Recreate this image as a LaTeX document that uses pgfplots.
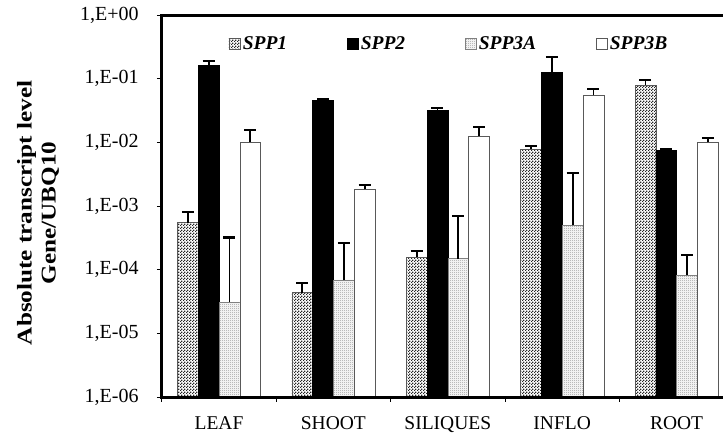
\documentclass[border=0pt]{standalone}
\usepackage{fontspec}
\setmainfont{Liberation Serif}
\newfontfamily\ylabfont[FakeStretch=1.2]{Liberation Serif}
\usepackage{pgfplots}
\usepackage{pgfplotstable}
\pgfplotsset{compat=1.18}
\usetikzlibrary{patterns}
\pgfdeclarepatternformonly{chkA}{\pgfqpoint{0pt}{0pt}}{\pgfqpoint{3pt}{3pt}}{\pgfqpoint{3pt}{3pt}}{%
 \pgfpathrectangle{\pgfqpoint{0pt}{0pt}}{\pgfqpoint{1.5pt}{1.5pt}}%
 \pgfpathrectangle{\pgfqpoint{1.5pt}{1.5pt}}{\pgfqpoint{1.5pt}{1.5pt}}%
 \pgfusepath{fill}}
\pgfdeclarepatternformonly{chkB}{\pgfqpoint{0pt}{0pt}}{\pgfqpoint{2pt}{2pt}}{\pgfqpoint{2pt}{2pt}}{%
 \pgfpathrectangle{\pgfqpoint{0pt}{0pt}}{\pgfqpoint{1pt}{1pt}}%
 \pgfpathrectangle{\pgfqpoint{1pt}{1pt}}{\pgfqpoint{1pt}{1pt}}%
 \pgfusepath{fill}}

\pgfplotstableread{
x y e
0 5.5e-4 2.5e-4
1 4.35e-5 1.9e-5
2 1.56e-4 4.0e-5
3 7.76e-3 9.0e-4
4 7.94e-2 1.48e-2
}\sppone
\pgfplotstableread{
x y e
0 0.160 0.029
1 0.046 0.001
2 0.0314 0.0028
3 0.126 0.090
4 7.57e-3 4.0e-4
}\spptwo
\pgfplotstableread{
x y e
0 3.1e-5 2.9e-4
1 6.9e-5 1.97e-4
2 1.49e-4 5.5e-4
3 4.96e-4 2.84e-3
4 8.15e-5 8.7e-5
}\sppthreeA
\pgfplotstableread{
x y e
0 0.0101 0.0055
1 1.83e-3 3.1e-4
2 0.0124 0.0048
3 0.0553 0.0142
4 0.0101 0.0017
}\sppthreeB

\begin{document}
\begin{tikzpicture}
\useasboundingbox (0,0) rectangle (723pt,432pt);
\clip (0,0) rectangle (723pt,432pt);
\begin{axis}[
  at={(161.8pt,35pt)}, anchor=south west,
  scale only axis, width=572pt, height=382pt,
  ymode=log, ymin=1e-6, ymax=1, log origin y=infty,
  xmin=-0.5, xmax=4.5,
  ybar=0pt, bar width=20.8pt,
  axis line style={line width=3pt, black},
  axis on top,
  tick align=outside, xtick pos=bottom, ytick pos=left,
  tick style={line width=0.8pt, black},
  major tick length=5pt,
  ytick={1e-6,1e-5,1e-4,1e-3,1e-2,1e-1,1},
  yticklabels={{1,E-06},{1,E-05},{1,E-04},{1,E-03},{1,E-02},{1,E-01},{1,E+00}},
  yminorticks=false,
  yticklabel style={font=\fontsize{20}{20}\selectfont, inner sep=0pt, xshift=-18pt},
  xtick={-0.5,0.5,1.5,2.5,3.5,4.5},
  xticklabels={},
  extra x ticks={0,1,2,3,4},
  extra x tick labels={LEAF,SHOOT,SILIQUES,INFLO,ROOT},
  extra x tick style={major tick length=0pt},
  xticklabel style={font=\fontsize{19.5}{20}\selectfont, inner sep=0pt, yshift=-19pt},
  ylabel={Absolute transcript level\\Gene/UBQ10},
  ylabel style={at={(axis description cs:-0.2164,0.482)}, anchor=center, align=center,
    font=\fontsize{21}{24}\selectfont\ylabfont\bfseries},
  legend image code/.code={\draw[#1] (0pt,-5.5pt) rectangle (11pt,5.5pt);},
  legend columns=4,
  legend style={at={(axis description cs:0.1166,0.924)}, anchor=west, draw=none, fill=none,
    inner sep=0pt, font=\fontsize{19.5}{20}\selectfont\bfseries\itshape,
    nodes={inner sep=1.5pt},
    /tikz/every odd column/.append style={column sep=1pt},
    /tikz/every even column/.append style={column sep=58pt}},
  error bars/y dir=plus, error bars/y explicit,
  error bars/error mark=-,
  error bars/error bar style={line width=1.8pt, black},
  error bars/error mark options={rotate=90, line width=2.2pt, mark size=6pt, black},
]
\addplot[draw=gray!70!black, line width=0.6pt, pattern=chkA, pattern color=black!85]
  table[x=x, y=y, y error=e] {\sppone};
\addplot[draw=black, fill=black, line width=0.6pt]
  table[x=x, y=y, y error=e] {\spptwo};
\addplot[draw=gray, line width=0.6pt, pattern=chkB, pattern color=gray!85]
  table[x=x, y=y, y error=e] {\sppthreeA};
\addplot[draw=gray!70!black, fill=white, line width=0.6pt]
  table[x=x, y=y, y error=e] {\sppthreeB};
\legend{SPP1,SPP2,SPP3A,SPP3B}
\end{axis}
\end{tikzpicture}
\end{document}
